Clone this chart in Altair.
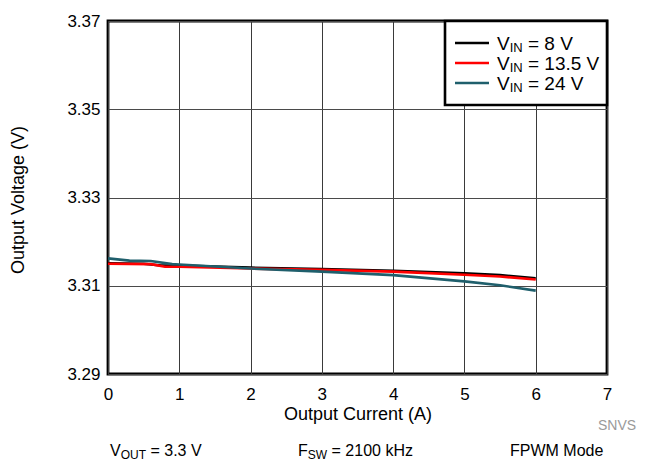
import altair as alt
import pandas as pd

# ---- data ----
cur_8 = [0, 0.5, 0.75, 1, 2, 3, 4, 5, 5.5, 6]
v_8 = [3.3151, 3.3150, 3.3146, 3.3146, 3.3141, 3.3138, 3.3134, 3.3128, 3.3124, 3.3117]

cur_13 = [0, 0.6, 0.8, 1, 2, 3, 4, 5, 5.5, 6]
v_13 = [3.3150, 3.3149, 3.3143, 3.3143, 3.3139, 3.3136, 3.3132, 3.3125, 3.3121, 3.3114]

cur_24 = [0, 0.3, 0.6, 0.9, 1, 2, 3, 4, 5, 5.5, 6]
v_24 = [3.3162, 3.3157, 3.3156, 3.3149, 3.3148, 3.3139, 3.3132, 3.3124, 3.3110, 3.3101, 3.3089]

series_names = ["8 V", "13.5 V", "24 V"]
series_colors = ["#000000", "#ff0000", "#1f5f6c"]

x_ticks = [0, 1, 2, 3, 4, 5, 6, 7]
y_ticks = [3.29, 3.31, 3.33, 3.35, 3.37]

FONT = "Liberation Sans"

rows = []
for name, xs_, ys_ in [("8 V", cur_8, v_8), ("13.5 V", cur_13, v_13), ("24 V", cur_24, v_24)]:
    for a, b in zip(xs_, ys_):
        rows.append({"current": a, "voltage": b, "series": name})
df = pd.DataFrame(rows)

W, H = 499, 353

xs = alt.Scale(domain=[0, 7], nice=False, zero=False)
ys = alt.Scale(domain=[3.29, 3.37], nice=False, zero=False)

x_axis = alt.Axis(values=x_ticks, title="Output Current (A)", grid=True,
                  labelPadding=12, labelFlush=False, labelFontSize=17,
                  titleX=W / 2, titleY=45, titleBaseline="alphabetic", titleFontSize=18,
                  gridColor="#3a3a3a", gridWidth=1)
y_axis = alt.Axis(values=y_ticks, format=".2f", title="Output Voltage (V)", grid=True,
                  labelPadding=8, labelFontSize=17,
                  titleX=-90, titleY=H / 2 + 2, titleAngle=270, titleFontSize=18,
                  titleBaseline="middle", gridColor="#4a4a4a", gridWidth=1)

base = alt.Chart(df)

layers = []
for name, col in zip(series_names, series_colors):
    layers.append(
        base.transform_filter(alt.datum.series == name)
        .mark_line(color=col, strokeWidth=2.6)
        .encode(
            x=alt.X("current:Q", scale=xs, axis=x_axis),
            y=alt.Y("voltage:Q", scale=ys, axis=y_axis),
        )
    )

# ---- legend (drawn manually for subscripts) ----
one = pd.DataFrame({"a": [0]})
legend_box = alt.Chart(one).mark_rect(
    fill="white", stroke="black", strokeWidth=2.6
).encode(x=alt.value(337), x2=alt.value(499), y=alt.value(0), y2=alt.value(84))
layers.append(legend_box)


def txt(s, x, y, size, color="black"):
    return alt.Chart(pd.DataFrame({"t": [s]})).mark_text(
        font=FONT, fontSize=size, align="left", baseline="alphabetic", color=color
    ).encode(text="t:N", x=alt.value(x), y=alt.value(y))


leg_y = [22, 42, 62]
leg_rest = ["= 8 V", "= 13.5 V", "= 24 V"]
LF = 19
SF = 13
for yy, col, rest in zip(leg_y, series_colors, leg_rest):
    layers.append(
        alt.Chart(one).mark_rule(color=col, strokeWidth=2.6).encode(
            x=alt.value(347), x2=alt.value(381), y=alt.value(yy)
        )
    )
    tx = 389
    layers.append(txt("V", tx, yy + 7, LF))
    layers.append(txt("IN", tx + 0.667 * LF, yy + 9, SF))
    layers.append(txt(rest, tx + 0.667 * LF + 1.0 * SF + 0.278 * LF, yy + 7, LF))

# ---- footnote texts ----
BF = 16
BS = 12
BY = 435


def rich(x0, main, sub, rest, main_w, sub_w):
    return [
        txt(main, x0, BY, BF),
        txt(sub, x0 + main_w * BF, BY + 3, BS),
        txt(rest, x0 + main_w * BF + sub_w * BS + 0.278 * BF, BY, BF),
    ]


layers += rich(2, "V", "OUT", "= 3.3 V", 0.667, 0.778 + 0.722 + 0.611)
layers += rich(190, "F", "SW", "= 2100 kHz", 0.611, 0.667 + 0.944)
layers.append(txt("FPWM Mode", 402, BY, BF))
layers.append(txt("SNVS", 490, 409, 14, "#9a9a9a"))

chart = alt.layer(*layers).properties(
    width=W, height=H,
    autosize=alt.AutoSizeParams(type="none"),
    padding={"left": 100, "top": 13, "right": 48, "bottom": 88},
).configure_view(
    stroke="black", strokeWidth=2.8
).configure_axis(
    labelFont=FONT, titleFont=FONT,
    labelColor="black", titleColor="black", titleFontWeight="normal",
    ticks=False, domain=False,
)

chart.save("out.html", embed_options={"renderer": "svg", "actions": False})
